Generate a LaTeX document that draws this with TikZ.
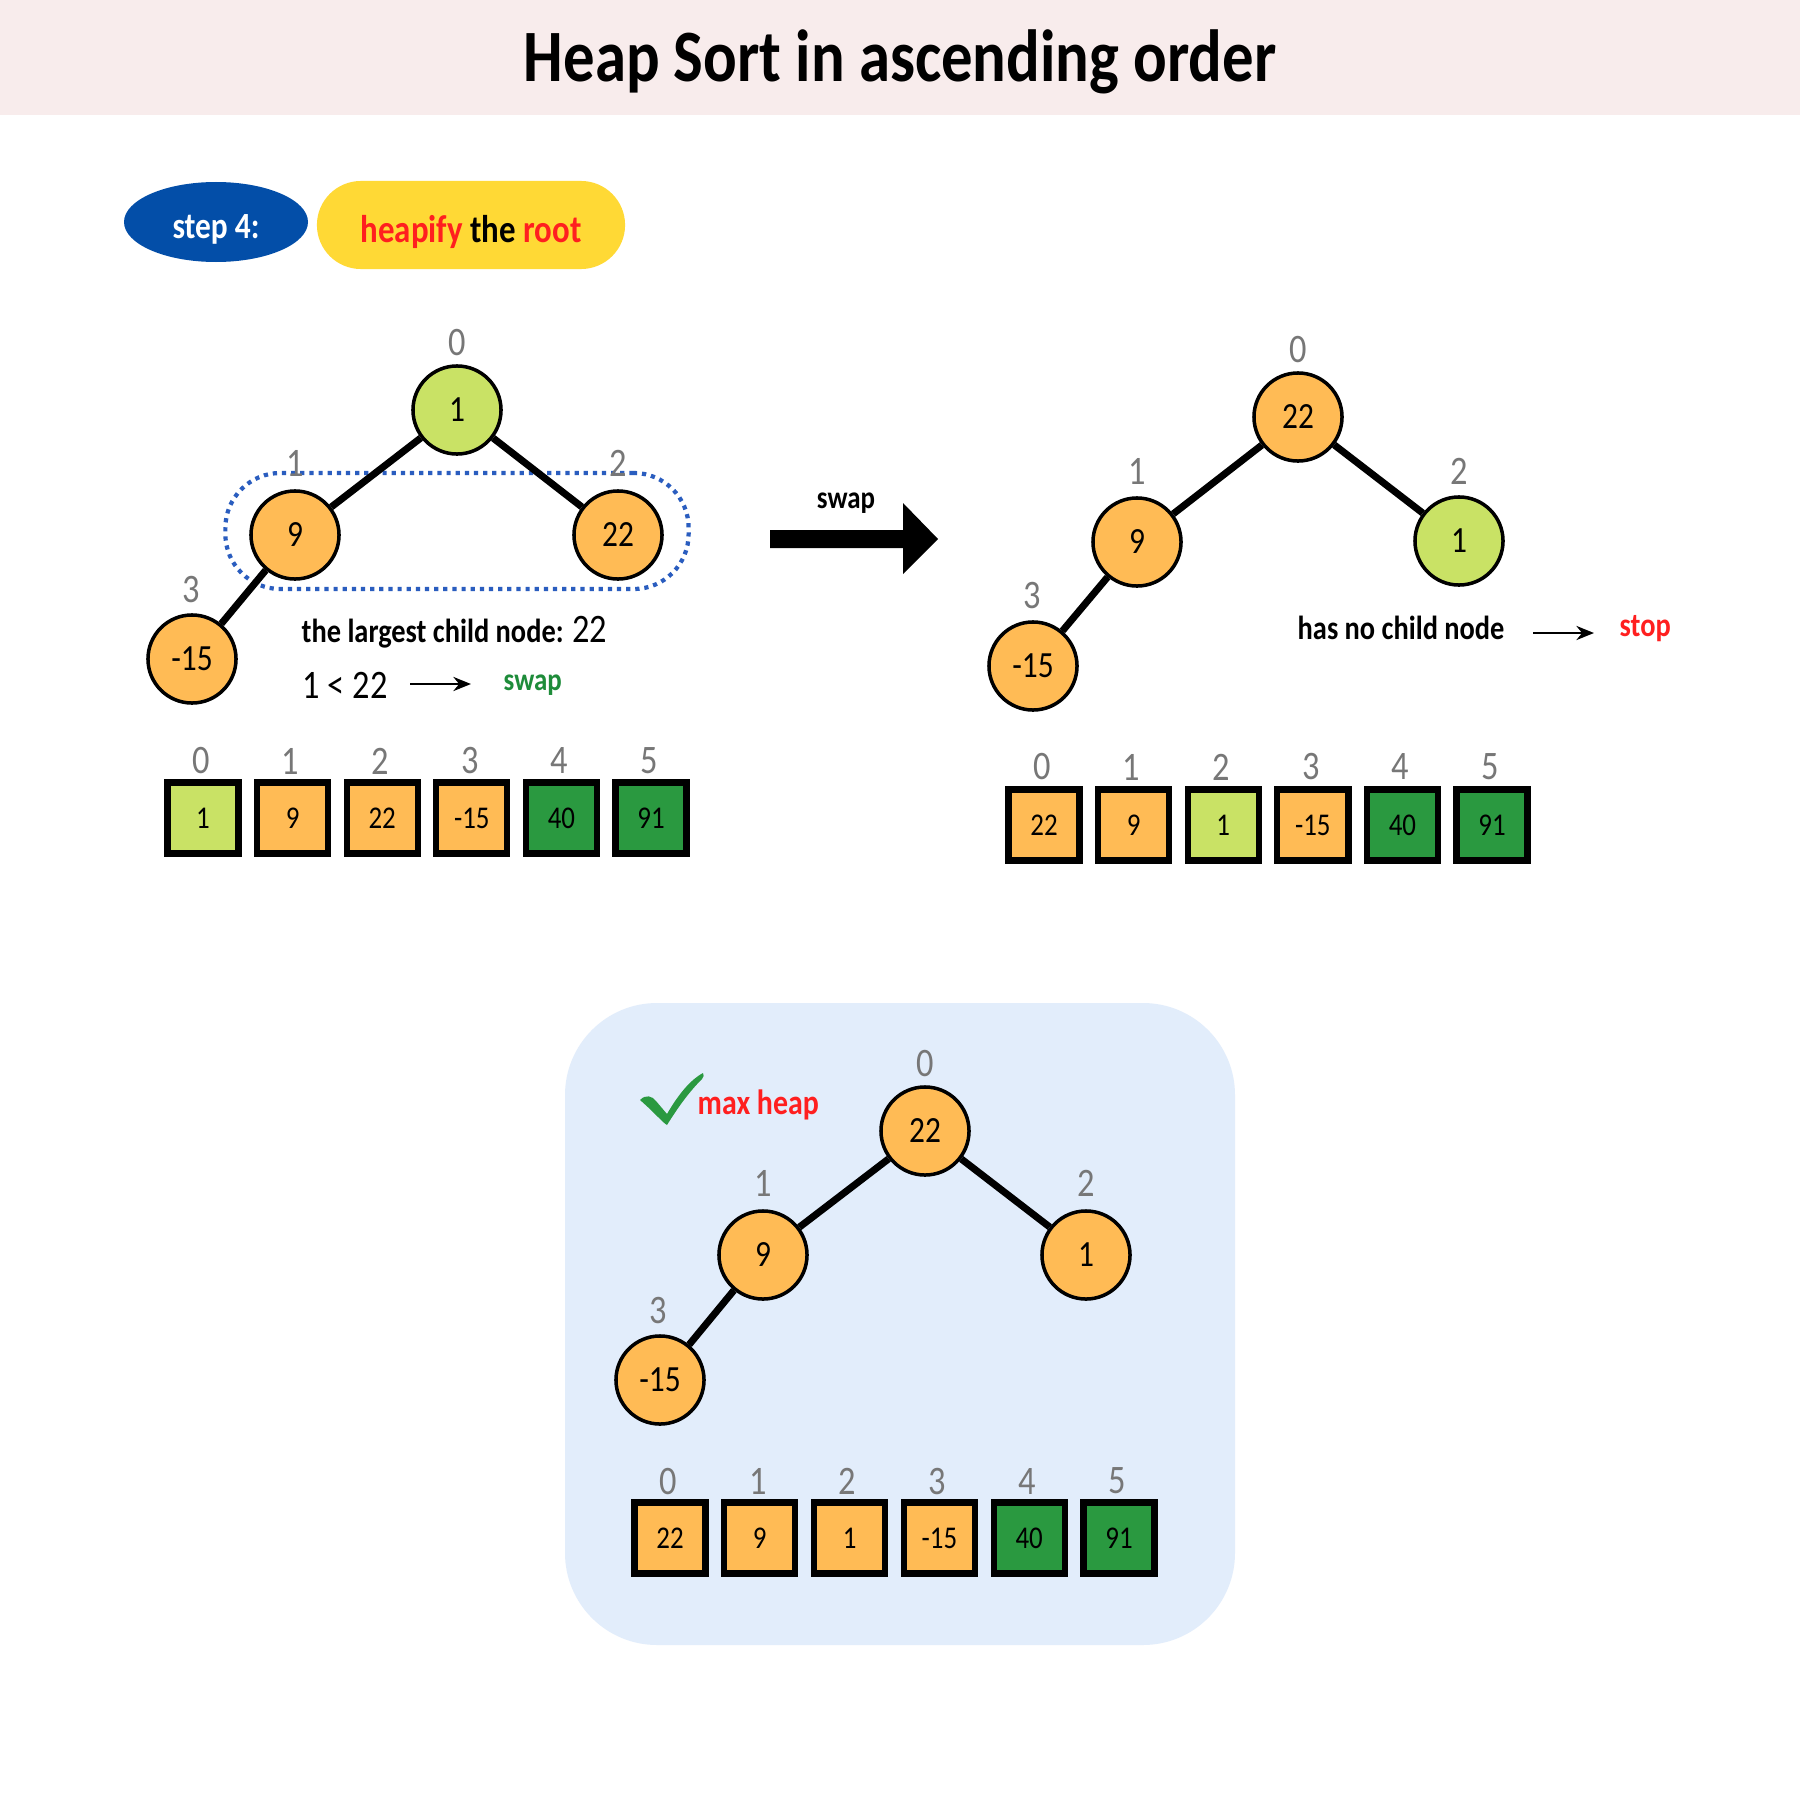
\documentclass[tikz,border=0pt]{standalone}
\usepackage{fontspec}
\setmainfont{Carlito}[FakeStretch=0.85]
\usetikzlibrary{arrows.meta,shapes.geometric}
\definecolor{hdr}{HTML}{F8ECEC}
\definecolor{panel}{HTML}{E2EDFB}
\definecolor{org}{HTML}{FFBB55}
\definecolor{lgreen}{HTML}{C9E265}
\definecolor{dgreen}{HTML}{2A9940}
\definecolor{stepblue}{HTML}{034EA8}
\definecolor{pill}{HTML}{FFD935}
\definecolor{hred}{HTML}{FF1F1F}
\definecolor{swapgreen}{HTML}{1E8C3A}
\definecolor{idxgray}{HTML}{777777}
\definecolor{dotblue}{HTML}{2A5DBF}
\tikzset{
  hnode/.style={circle, draw=black, line width=1pt, minimum size=0.88cm, inner sep=0pt, font=\fontsize{10.5}{12}\selectfont},
  orgnode/.style={hnode, fill=org},
  grnnode/.style={hnode, fill=lgreen},
  idx/.style={text=idxgray, font=\fontsize{11.5}{13}\selectfont, inner sep=0pt},
  cell/.style={draw=black, line width=1.8pt, minimum size=0.71cm, inner sep=0pt, font=\fontsize{9}{10}\selectfont},
  edge/.style={line width=2pt, black},
  smallarrow/.style={line width=0.8pt, -{Stealth[length=5pt,width=4pt]}},
  note/.style={font=\fontsize{9.5}{11}\selectfont\bfseries, inner sep=0pt, anchor=west},
}
\begin{document}
\begin{tikzpicture}[x=0.01cm, y=-0.01cm]
\useasboundingbox (0,0) rectangle (1800,1800);
\fill[white] (0,0) rectangle (1800,1800);
% header
\fill[hdr] (0,0) rectangle (1800,115);
\node[font=\fontsize{21}{24}\selectfont\bfseries, inner sep=0pt] (title) at (900,62) {Heap Sort in ascending order};
% step badge
\fill[stepblue] (216,222) ellipse [x radius=92, y radius=40];
\node[inner sep=0pt, text=white, font=\fontsize{10.5}{12}\selectfont\bfseries] (step) at (216,229) {step 4:};
\node[fill=pill, rounded corners=0.44cm, minimum width=3.08cm, minimum height=0.88cm, inner sep=0pt] (task) at (471,225) {};
\node[inner sep=0pt, font=\fontsize{11}{13}\selectfont\bfseries] (tasktext) at (471,232) {\textcolor{hred}{heapify} the \textcolor{hred}{root}};

% ---------- left tree ----------
\node[draw=dotblue, line width=1.2pt, dash pattern=on 1.2pt off 1.4pt, rounded corners=0.55cm, minimum width=4.63cm, minimum height=1.16cm] (grp) at (457,531) {};
\node[grnnode] (L0) at (457,410) {1};
\node[orgnode] (L1) at (295,535) {9};
\node[orgnode] (L2) at (618,535) {22};
\node[orgnode] (L3) at (192,659) {-15};
\draw[edge] (L0) -- (L1);
\draw[edge] (L0) -- (L2);
\draw[edge] (L1) -- (L3);
\node[idx] (Li0) at (457,343) {0};
\node[idx] (Li1) at (295,463) {1};
\node[idx] (Li2) at (618,463) {2};
\node[idx] (Li3) at (191,590) {3};

\node[note] (largest) at (301,632) {the largest child node: {\fontsize{11.5}{13}\selectfont\mdseries 22}};
\node[inner sep=0pt, anchor=west, font=\fontsize{11.5}{13}\selectfont] (cmp) at (302,685) {1 < 22};
\coordinate (la1) at (410,684);
\coordinate (la2) at (471,684);
\draw[smallarrow] (la1) -- (la2);
\node[inner sep=0pt, anchor=west, text=swapgreen, font=\fontsize{9}{11}\selectfont\bfseries] (swapL) at (503,685) {swap};

% left array
\foreach \v/\c [count=\i from 0] in {1/lgreen,9/org,22/org,-15/org,40/dgreen,91/dgreen}{
  \node[cell, fill=\c] (LA\i) at ({203+89.6*\i},818) {\v};
  \node[idx] (LAi\i) at ({201+89.6*\i},761) {\i};
}

% ---------- big arrow ----------
\fill[black] (770,530) -- (903,530) -- (903,503) -- (938,539) -- (903,574) -- (903,548) -- (770,548) -- cycle;
\node[font=\fontsize{9}{11}\selectfont\bfseries, inner sep=0pt] (swapB) at (846,503) {swap};

% ---------- right tree ----------
\node[orgnode] (R0) at (1298,417) {22};
\node[orgnode] (R1) at (1137,542) {9};
\node[grnnode] (R2) at (1459,541) {1};
\node[orgnode] (R3) at (1033,666) {-15};
\draw[edge] (R0) -- (R1);
\draw[edge] (R0) -- (R2);
\draw[edge] (R1) -- (R3);
\node[idx] (Ri0) at (1298,350) {0};
\node[idx] (Ri1) at (1137,471) {1};
\node[idx] (Ri2) at (1459,471) {2};
\node[idx] (Ri3) at (1032,596) {3};

\node[note] (nochild) at (1297,628) {has no child node};
\coordinate (ra1) at (1533,633);
\coordinate (ra2) at (1594,633);
\draw[smallarrow] (ra1) -- (ra2);
\node[inner sep=0pt, anchor=west, text=hred, font=\fontsize{9.5}{11}\selectfont\bfseries] (stop) at (1619,629) {stop};

% right array
\foreach \v/\c [count=\i from 0] in {22/org,9/org,1/lgreen,-15/org,40/dgreen,91/dgreen}{
  \node[cell, fill=\c] (RA\i) at ({1044+89.6*\i},825) {\v};
  \node[idx] (RAi\i) at ({1042+89.6*\i},767) {\i};
}

% ---------- bottom panel ----------
\fill[panel, rounded corners=0.92cm] (565,1003) rectangle (1235,1645);
\fill[dgreen] (640,1100) .. controls (646,1094) and (652,1096) .. (656,1101)
  -- (667,1114) .. controls (678,1095) and (690,1080) .. (703,1073)
  .. controls (704,1075) and (704,1077) .. (702,1079)
  .. controls (688,1093) and (677,1109) .. (667,1125)
  .. controls (662,1122) and (656,1114) .. (640,1100) -- cycle;
\node[inner sep=0pt, anchor=west, text=hred, font=\fontsize{10}{12}\selectfont\bfseries] (maxheap) at (697,1105) {max heap};

\node[orgnode] (B0) at (925,1131) {22};
\node[orgnode] (B1) at (763,1255) {9};
\node[orgnode] (B2) at (1086,1255) {1};
\node[orgnode] (B3) at (660,1380) {-15};
\draw[edge] (B0) -- (B1);
\draw[edge] (B0) -- (B2);
\draw[edge] (B1) -- (B3);
\node[idx] (Bi0) at (925,1064) {0};
\node[idx] (Bi1) at (763,1183) {1};
\node[idx] (Bi2) at (1086,1183) {2};
\node[idx] (Bi3) at (658,1310) {3};

\foreach \v/\c [count=\i from 0] in {22/org,9/org,1/org,-15/org,40/dgreen,91/dgreen}{
  \node[cell, fill=\c] (BA\i) at ({670+89.8*\i},1538) {\v};
  \node[idx] (BAi\i) at ({668+89.8*\i},1481) {\i};
}
\end{tikzpicture}
\end{document}
